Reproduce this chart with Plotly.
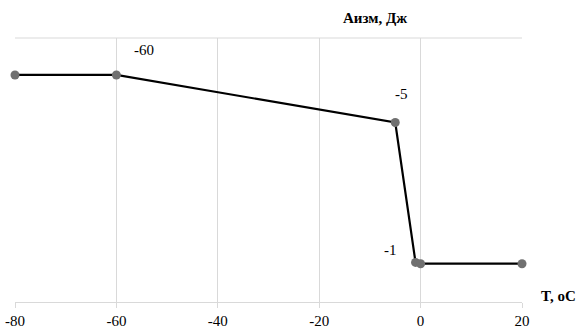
import plotly.graph_objects as go

T = [-80, -60, -5, -1, 0, 20]
A = [86, 86, 68, 15, 14.5, 14.5]
x_ticks = [-80, -60, -40, -20, 0, 20]
label_pts = [(-60, 86, 28, 25), (-5, 68, 6, 28), (-1, 15, -25, 12)]

FONT = "Times New Roman"
GRID = "#d9d9d9"

fig = go.Figure()
fig.add_trace(go.Scatter(
    x=T, y=A, mode="lines+markers",
    line=dict(color="#000000", width=2.2),
    marker=dict(symbol="circle", size=9, color="#707070"),
    showlegend=False, cliponaxis=False,
))

for x, y, dx, dy in label_pts:
    fig.add_annotation(x=x, y=y, xref="x", yref="y", text=str(x), showarrow=False,
                       xshift=dx, yshift=dy, font=dict(family=FONT, size=15, color="#000000"))

fig.add_annotation(xref="paper", yref="paper", x=(375 - 15) / 507, y=1 + (38 - 18) / 264,
                   xanchor="center", yanchor="middle", text="<b>Аизм, Дж</b>",
                   showarrow=False, font=dict(family=FONT, size=15, color="#000000"))
fig.add_annotation(xref="paper", yref="paper", x=(558 - 15) / 507, y=(302 - 296) / 264,
                   xanchor="center", yanchor="middle", text="<b>T, oC</b>",
                   showarrow=False, font=dict(family=FONT, size=15, color="#000000"))

fig.add_shape(type="line", xref="paper", yref="paper", x0=0, x1=1, y0=1, y1=1,
              line=dict(color=GRID, width=1), layer="below")

fig.update_layout(
    width=580, height=328,
    margin=dict(l=15, r=58, t=38, b=26),
    paper_bgcolor="white", plot_bgcolor="white",
    xaxis=dict(range=[-80, 20], tickvals=x_ticks, ticktext=[str(v) for v in x_ticks],
               showgrid=True, gridcolor=GRID, gridwidth=1, zeroline=False,
               showline=True, linecolor=GRID, linewidth=1, automargin=False,
               ticks="outside", ticklen=5, tickcolor=GRID,
               tickfont=dict(family=FONT, size=15, color="#000000")),
    yaxis=dict(range=[0, 100], showticklabels=False, showgrid=False, automargin=False,
               zeroline=False, showline=False),
)

fig.write_html("out.html")
